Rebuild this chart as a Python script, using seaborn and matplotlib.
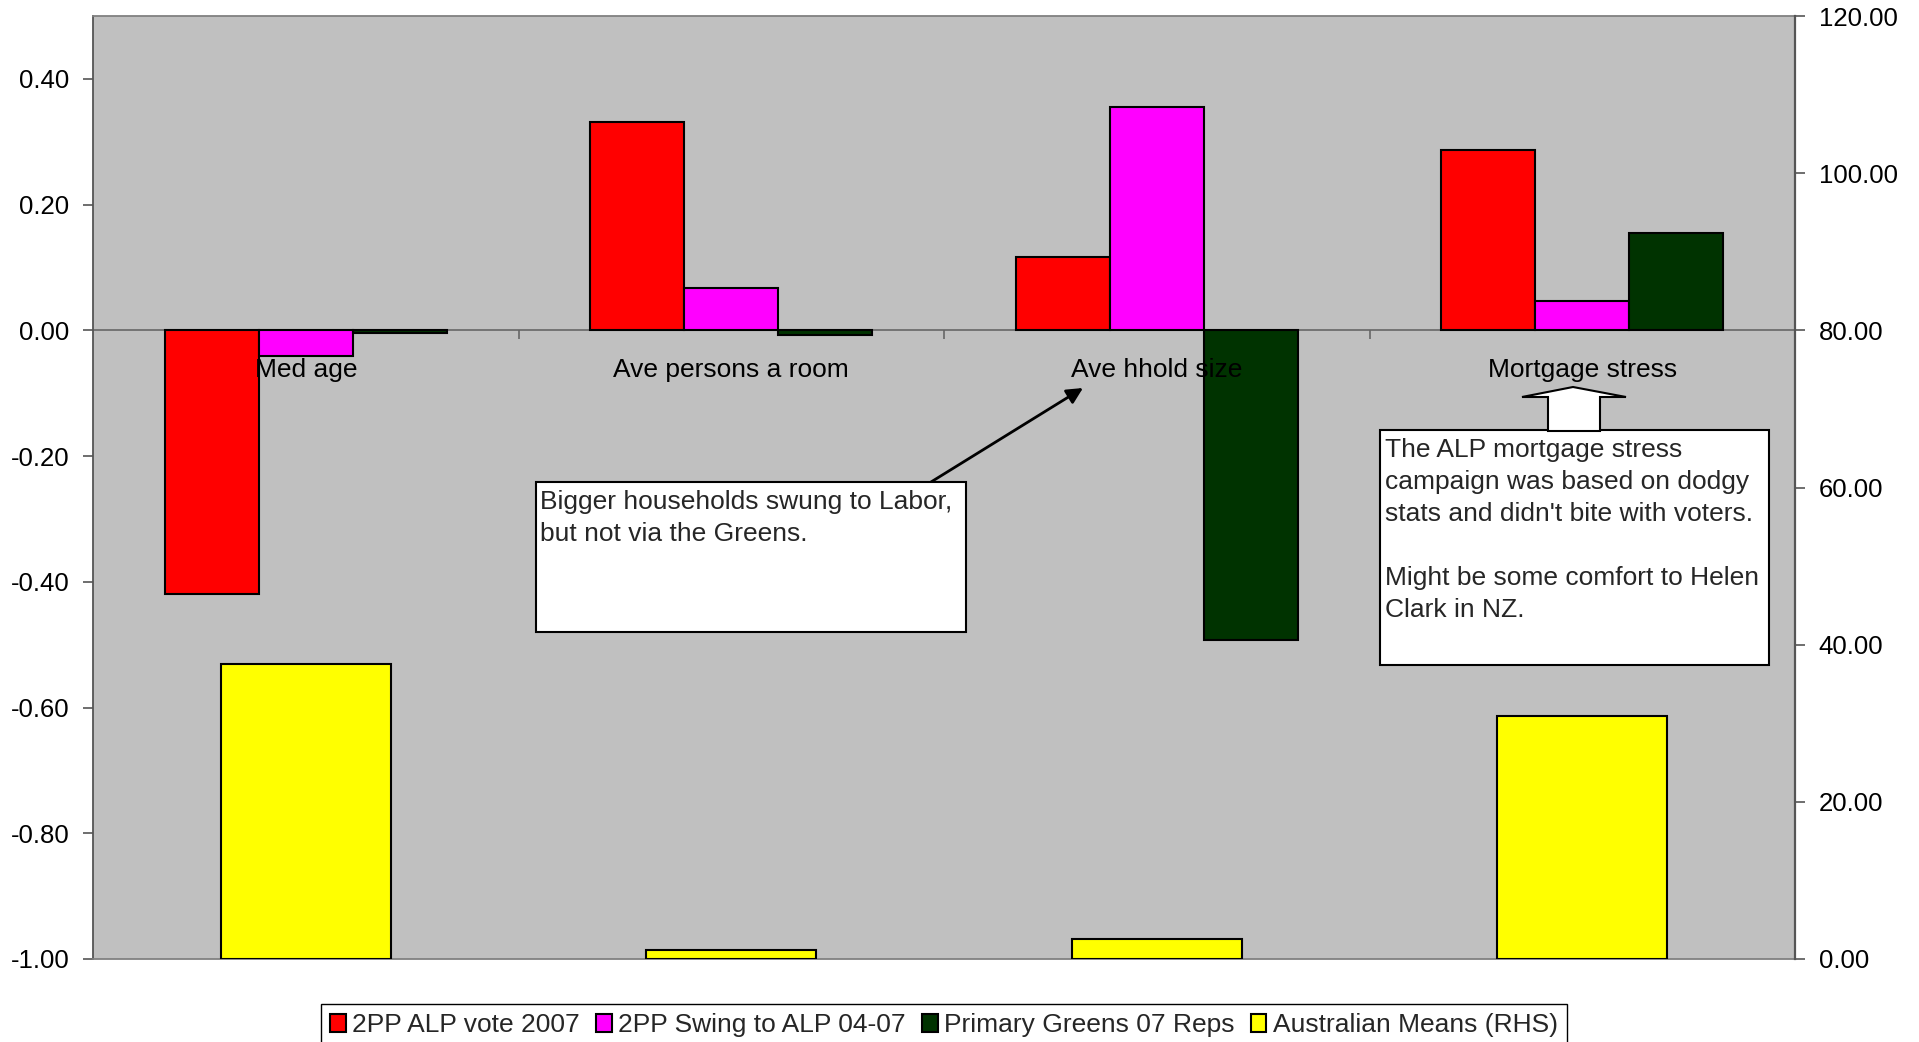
import numpy as np
import pandas as pd
import matplotlib
matplotlib.use("Agg")
import matplotlib.pyplot as plt
import seaborn as sns
from matplotlib.patches import Patch, Rectangle, Polygon
from matplotlib.ticker import FormatStrFormatter

# ---- data -------------------------------------------------------------
categories = ["Med age", "Ave persons a room", "Ave hhold size", "Mortgage stress"]
series_names = ["2PP ALP vote 2007", "2PP Swing to ALP 04-07", "Primary Greens 07 Reps"]
alp_vote_2007 = [-0.419, 0.331, 0.117, 0.287]
alp_swing_04_07 = [-0.041, 0.067, 0.355, 0.047]
greens_primary_07 = [-0.004, -0.008, -0.492, 0.155]
means_name = "Australian Means (RHS)"
australian_means = [37.6, 1.1, 2.6, 30.9]
left_ticks = [-1.0, -0.8, -0.6, -0.4, -0.2, 0.0, 0.2, 0.4]
right_ticks = [0, 20, 40, 60, 80, 100, 120]

series_colors = ["#FF0000", "#FF00FF", "#003300"]
means_color = "#FFFF00"

# ---- style ------------------------------------------------------------
sns.set_style("white")
plt.rcParams["font.family"] = ["Liberation Sans", "DejaVu Sans"]
plt.rcParams["axes.unicode_minus"] = False

W, H = 1919, 1042


def fxy(px, py):
    """Pixel position (from top-left) to figure fraction."""
    return px / W, 1 - py / H


fig = plt.figure(figsize=(W / 100, H / 100), dpi=100)
fig.patch.set_facecolor("white")
ax = fig.add_axes([93 / W, 1 - 959 / H, (1795 - 93) / W, (959 - 16) / H])
ax.set_facecolor("#C0C0C0")

# correlation bars (left axis)
df = pd.DataFrame({
    "category": categories * 3,
    "series": [s for s in series_names for _ in categories],
    "value": alp_vote_2007 + alp_swing_04_07 + greens_primary_07,
})
sns.barplot(data=df, x="category", y="value", hue="series",
            order=categories, hue_order=series_names,
            palette=series_colors, saturation=1, width=0.663,
            edgecolor="black", linewidth=1.5, errorbar=None,
            legend=False, ax=ax, zorder=2)

ax.axhline(0, color="#666666", lw=1.2, zorder=1)
ax.vlines([0.5, 1.5, 2.5], -0.013, 0, color="#666666", lw=1.2, zorder=1)

# national means (right axis)
ax2 = ax.twinx()
sns.barplot(x=categories, y=australian_means, order=categories,
            color=means_color, saturation=1, width=0.40,
            edgecolor="black", linewidth=1.5, errorbar=None, ax=ax2)

ax.set_xlim(-0.5, 3.5)
ax.set_ylim(-1.0, 0.5)
ax2.set_ylim(0, 120)
ax.set_xticks([])
ax2.set_xticks([])
for a in (ax, ax2):
    a.set_xlabel("")
    a.set_ylabel("")

ax.set_yticks(left_ticks)
ax2.set_yticks(right_ticks)
ax.yaxis.set_major_formatter(FormatStrFormatter("%.2f"))
ax2.yaxis.set_major_formatter(FormatStrFormatter("%.2f"))
ax.tick_params(axis="y", left=True, direction="out", length=7, width=1.2,
               color="#555555", labelsize=18.5, pad=10, labelcolor="black")
ax2.tick_params(axis="y", right=True, direction="out", length=7, width=1.2,
                color="#555555", labelsize=18.5, pad=10, labelcolor="black")

for name, sp in ax.spines.items():
    sp.set_visible(name != "right")
    sp.set_color("#808080" if name in ("top", "bottom") else "#555555")
    sp.set_linewidth(1.3)
for name, sp in ax2.spines.items():
    sp.set_visible(name == "right")
    sp.set_color("#555555")
    sp.set_linewidth(1.6)

# category labels next to the zero line
for i, cat in enumerate(categories):
    ax.annotate(cat, xy=(i, 0), xycoords="data", xytext=(0, -20),
                textcoords="offset points", ha="center", va="top",
                fontsize=19, color="black", zorder=6)

# legend
handles = [Patch(facecolor=c, edgecolor="black", linewidth=1.5)
           for c in series_colors + [means_color]]
labels = series_names + [means_name]
leg = ax2.legend(handles, labels, loc="upper center",
                 bbox_to_anchor=(0.5, -0.0477), ncol=4, frameon=True,
                 fancybox=False, edgecolor="black", framealpha=1,
                 fontsize=19, handlelength=0.6, handleheight=0.65,
                 handletextpad=0.25, columnspacing=0.6, borderpad=0.35,
                 borderaxespad=0)
leg.get_frame().set_linewidth(1.0)

# callout: household size
x0, y0 = fxy(536, 632)
x1, y1 = fxy(966, 482)
fig.add_artist(Rectangle((x0, y0), x1 - x0, y1 - y0, transform=fig.transFigure,
                         facecolor="white", edgecolor="black", lw=1.5, zorder=5))
fig.text(*fxy(540, 490), "Bigger households swung to Labor,\nbut not via the Greens.",
         ha="left", va="top", fontsize=19, linespacing=1.42, zorder=6)
ax2.annotate("", xy=fxy(1083, 388), xycoords="figure fraction",
             xytext=fxy(931, 482), textcoords="figure fraction",
             arrowprops=dict(arrowstyle="-|>", color="black", lw=2,
                             mutation_scale=24, shrinkA=0, shrinkB=0),
             zorder=6)

# callout: mortgage stress
x0, y0 = fxy(1380, 665)
x1, y1 = fxy(1769, 430)
fig.add_artist(Rectangle((x0, y0), x1 - x0, y1 - y0, transform=fig.transFigure,
                         facecolor="white", edgecolor="black", lw=1.5, zorder=5))
fig.text(*fxy(1385, 438),
         "The ALP mortgage stress\ncampaign was based on dodgy\n"
         "stats and didn't bite with voters.\n\nMight be some comfort to Helen\n"
         "Clark in NZ.",
         ha="left", va="top", fontsize=19, linespacing=1.42, zorder=6)
block = [fxy(1548, 431), fxy(1548, 397), fxy(1522, 397), fxy(1573, 387),
         fxy(1626, 397), fxy(1600, 397), fxy(1600, 431)]
fig.add_artist(Polygon(block, closed=True, transform=fig.transFigure,
                       facecolor="white", edgecolor="black", lw=1.5, zorder=5.5))

fig.savefig("out.png", dpi=100)
